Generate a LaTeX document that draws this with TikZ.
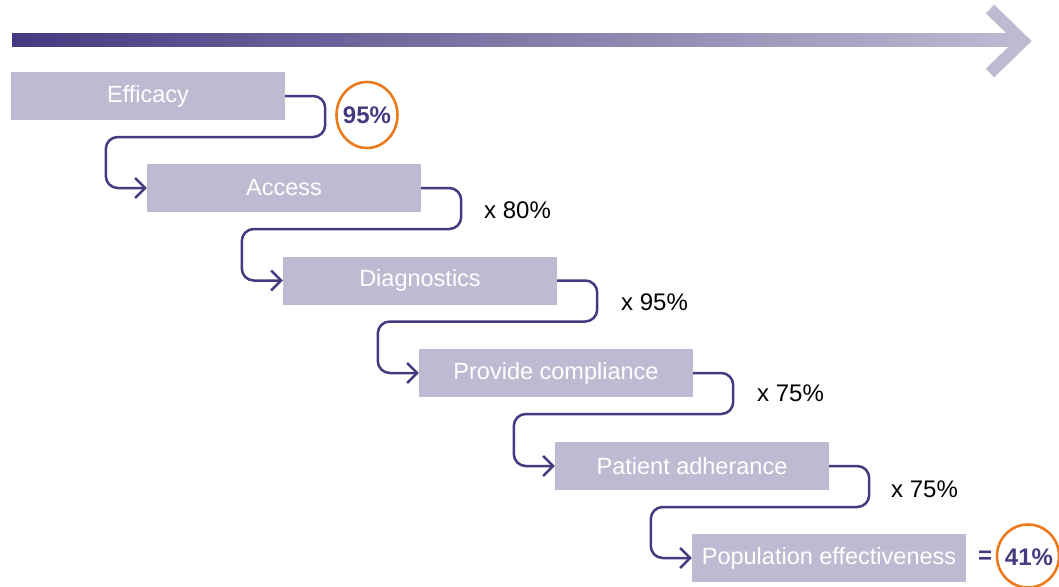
\documentclass[tikz,border=0pt]{standalone}
\usepackage{fontspec}
\setmainfont{Liberation Sans}
\usetikzlibrary{calc,arrows.meta,shapes.geometric}
\definecolor{boxfill}{HTML}{BDBBD1}
\definecolor{purp}{HTML}{46397F}
\definecolor{orng}{HTML}{EC7A1C}
\begin{document}
\begin{tikzpicture}[x=1pt,y=-1pt,
  stepbox/.style={fill=boxfill,minimum width=274pt,minimum height=48pt,inner sep=0pt,text=white,font=\fontsize{23.5}{26}\selectfont},
  conn/.style={draw=purp,line width=2.5pt,rounded corners=12pt,-{Straight Barb[length=10pt,width=20pt,line width=2.5pt]}},
  pct/.style={font=\fontsize{24}{28}\selectfont,text=black,anchor=west,inner sep=0pt},
  ring/.style={draw=orng,line width=2.6pt,ellipse,inner sep=0pt},
  big/.style={text=purp,font=\fontsize{24}{28}\selectfont\bfseries,inner sep=0pt}]
\useasboundingbox (0,0) rectangle (1059,586);
% top arrow
\shade[left color=purp,right color=boxfill] (12,34) rectangle (1020,47);
\draw[boxfill,line width=12pt,line join=miter] (990,9) -- (1023,41) -- (990,73);
% boxes
\node[stepbox] (b1) at (148,96) {Efficacy};
\node[stepbox] (b2) at (284,188) {Access};
\node[stepbox] (b3) at (420,280.5) {Diagnostics};
\node[stepbox] (b4) at (556,373) {Provide compliance};
\node[stepbox] (b5) at (692,466) {Patient adherance};
\node[stepbox] (b6) at (829,558) {Population effectiveness};
% connectors
\foreach \a/\b in {b1/b2,b2/b3,b3/b4,b4/b5,b5/b6}{
  \draw[conn] (\a.east) -- ++(40,0) -- ++(0,41) -| ($(\b.west)+(-41,0)$) -- (\b.west);
}
% labels
\node[pct] (p2) at (484,210) {x 80\%};
\node[pct] (p3) at (621,302) {x 95\%};
\node[pct] (p4) at (757,393) {x 75\%};
\node[pct] (p5) at (891,489) {x 75\%};
\node[ring,minimum width=61pt,minimum height=66pt] (c1) at (367,115) {};
\node[big] (t1) at (367,115) {95\%};
\node[big] (eq) at (985,557) {=};
\node[ring,minimum width=62pt,minimum height=63pt] (c2) at (1028,556) {};
\node[big] (t2) at (1029,557) {41\%};
\end{tikzpicture}
\end{document}
